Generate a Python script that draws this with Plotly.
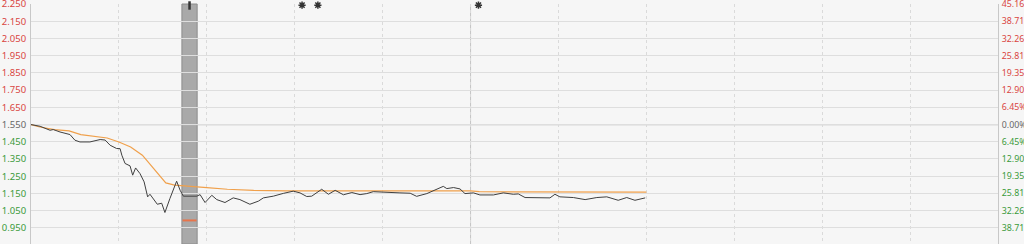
import plotly.graph_objects as go

# ---- data ----
minutes = [0, 3.1, 6.5, 7.6, 9.9, 13.3, 15.0, 16.7, 20.1, 23.6, 25.3, 27.0, 29.2, 30.4, 31.0,
           32.1, 33.8, 34.7, 35.7, 37.2, 38.6, 39.8, 40.6, 42.3, 43.1, 44.6, 45.7, 47.4, 49.7,
           50.9, 52.0, 56.6, 57.7, 59.4, 61.7, 63.4, 66.2, 69.0, 71.3, 74.7, 77.6, 79.3, 82.7,
           86.1, 89.5, 91.8, 94.1, 95.8, 99.2, 101.5, 103.8, 106.6, 109.5, 112.3, 114.6, 116.8,
           121.4, 125.9, 129.4, 131.6, 135.1, 138.5, 140.7, 141.9, 144.2, 146.4, 148.1, 151.0,
           153.2, 157.8, 161.2, 164.6, 166.3, 168.6, 173.7, 177.1, 178.8, 180.5, 185.1, 189.1,
           193.1, 196.5, 200.4, 203.3, 206.1, 209.6]
price = [1.550, 1.540, 1.517, 1.521, 1.507, 1.492, 1.459, 1.449, 1.449, 1.463, 1.460, 1.430,
         1.411, 1.410, 1.372, 1.324, 1.310, 1.256, 1.298, 1.265, 1.217, 1.130, 1.145, 1.110,
         1.087, 1.093, 1.039, 1.120, 1.221, 1.168, 1.134, 1.134, 1.143, 1.097, 1.139, 1.114,
         1.097, 1.124, 1.114, 1.087, 1.105, 1.124, 1.134, 1.150, 1.163, 1.153, 1.132, 1.134,
         1.174, 1.145, 1.168, 1.142, 1.155, 1.143, 1.149, 1.160, 1.155, 1.153, 1.151, 1.133,
         1.149, 1.172, 1.191, 1.178, 1.184, 1.176, 1.149, 1.153, 1.141, 1.141, 1.153, 1.145,
         1.147, 1.126, 1.126, 1.124, 1.145, 1.130, 1.126, 1.114, 1.126, 1.130, 1.110, 1.126,
         1.110, 1.124]

avg_minutes = [0, 3, 8, 13, 17, 21, 26, 30, 34, 38, 42, 44, 46, 49, 53, 60, 67, 76, 87, 120,
               150, 153, 178, 210]
avg_price = [1.550, 1.536, 1.521, 1.513, 1.492, 1.485, 1.472, 1.449, 1.420, 1.372, 1.294,
             1.256, 1.211, 1.198, 1.194, 1.184, 1.174, 1.168, 1.165, 1.165, 1.165, 1.160,
             1.157, 1.157]

band_start, band_end = 51.5, 56.7
band_mark_x = [54.1]
band_mark_y = [0.993]
star_x = [92.5, 97.9, 152.7]
pin_x = [54.1]

prev_close = 1.55
left_ticks = [2.25, 2.15, 2.05, 1.95, 1.85, 1.75, 1.65, 1.55, 1.45, 1.35, 1.25, 1.15, 1.05, 0.95]

RED, GREEN, GREY = "#d9453f", "#3a9a3a", "#666666"


def col(v):
    if abs(v - prev_close) < 1e-9:
        return GREY
    return RED if v > prev_close else GREEN


left_text = [f'<span style="color:{col(v)}">{v:.3f}</span>' for v in left_ticks]
right_text = [f'<span style="color:{col(v)}">{abs(v - prev_close) / prev_close * 100:.2f}%</span>'
              for v in left_ticks]

YR = [0.856, 2.2506]
XR = [0, 330]

fig = go.Figure()

fig.add_trace(go.Scatter(x=avg_minutes, y=avg_price, mode="lines",
                         line=dict(color="#f0a04b", width=1.2), hoverinfo="skip"))
fig.add_trace(go.Scatter(x=minutes, y=price, mode="lines",
                         line=dict(color="#404040", width=1), hoverinfo="skip"))
fig.add_trace(go.Scatter(x=band_mark_x, y=band_mark_y, mode="markers",
                         marker=dict(symbol="line-ew-open", size=10, color="#e8744a",
                                     line=dict(color="#e8744a", width=2)),
                         hoverinfo="skip"))
fig.add_trace(go.Scatter(x=star_x, y=[2.244] * len(star_x), mode="markers",
                         marker=dict(symbol="asterisk-open", size=6, color="#333333",
                                     line=dict(color="#333333", width=1.5)),
                         cliponaxis=False, hoverinfo="skip"))
fig.add_trace(go.Scatter(x=pin_x, y=[2.242], mode="markers",
                         marker=dict(symbol="line-ns-open", size=6, color="#333333",
                                     line=dict(color="#333333", width=2.5)),
                         cliponaxis=False, hoverinfo="skip"))
# invisible trace to activate the right axis
fig.add_trace(go.Scatter(x=[0], y=[prev_close], yaxis="y2", mode="markers",
                         marker=dict(opacity=0), hoverinfo="skip"))

shapes = [
    dict(type="rect", xref="x", yref="paper", x0=band_start, x1=band_end, y0=0, y1=1,
         fillcolor="#a9a9a9", line=dict(color="#8c8c8c", width=1), layer="below"),
    dict(type="line", xref="x", yref="paper", x0=150, x1=150, y0=0, y1=1,
         line=dict(color="#c4c4c4", width=1), layer="below"),
    dict(type="line", xref="paper", yref="y", x0=0, x1=1, y0=prev_close, y1=prev_close,
         line=dict(color="#bdbdbd", width=1.2), layer="below"),
]

fig.update_layout(
    width=1024, height=244,
    margin=dict(l=31, r=26, t=4, b=0, autoexpand=False),
    paper_bgcolor="#f6f6f6", plot_bgcolor="#f6f6f6",
    showlegend=False,
    font=dict(family="Noto Sans", size=9.5, color=GREY),
    shapes=shapes,
    xaxis=dict(range=XR, tickvals=list(range(0, 331, 30)), showticklabels=False,
               showgrid=True, gridcolor="#dadada", griddash="dot", gridwidth=1,
               zeroline=False, showline=False, ticks="", automargin=False),
    yaxis=dict(range=YR, tickvals=left_ticks, ticktext=left_text, showgrid=True,
               gridcolor="#dedede", gridwidth=1, zeroline=False, showline=True,
               linecolor="#c8c8c8", linewidth=1, ticks="", ticklabelstandoff=2,
               automargin=False, ticklabeloverflow="allow"),
    yaxis2=dict(range=YR, overlaying="y", side="right", tickvals=left_ticks,
                ticktext=right_text, showgrid=False, zeroline=False, showline=True,
                linecolor="#c8c8c8", linewidth=1, ticks="", ticklabelstandoff=1,
                automargin=False, ticklabeloverflow="allow",
                tickfont=dict(size=8.8)),
)

fig.write_html("out.html")
